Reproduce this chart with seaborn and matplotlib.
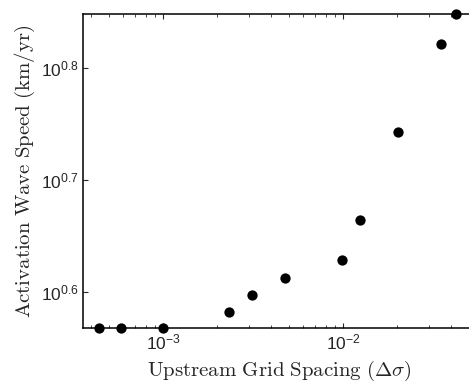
import numpy as np
import pandas as pd
import matplotlib
matplotlib.use("Agg")
import matplotlib.pyplot as plt
import matplotlib.ticker as mticker
import seaborn as sns

# Data (log-log)
grid_spacing = [4.41e-4, 5.82e-4, 1.0e-3, 2.33e-3, 3.12e-3, 4.76e-3,
                9.87e-3, 1.24e-2, 2.02e-2, 3.49e-2, 4.25e-2]
log_speed = [0.568, 0.568, 0.568, 0.582, 0.597, 0.613,
             0.629, 0.664, 0.743, 0.821, 0.848]
wave_speed = [10 ** v for v in log_speed]

y_tick_exps = [0.6, 0.7, 0.8]
x_tick_vals = [1e-3, 1e-2]
x_tick_labels = [r"$\mathregular{10^{-3}}$", r"$\mathregular{10^{-2}}$"]

df = pd.DataFrame({"spacing": grid_spacing, "speed": wave_speed})

sns.set_style("ticks")
plt.rcParams["font.family"] = ["Liberation Sans", "DejaVu Sans"]
plt.rcParams["xtick.direction"] = "in"
plt.rcParams["ytick.direction"] = "in"

RIGHT_PX = 475
fig = plt.figure(figsize=(4.69, 3.83), dpi=100)
ax = fig.add_axes([83 / 469, 1 - 328 / 383, (RIGHT_PX - 83) / 469, (328 - 14) / 383])

sns.scatterplot(data=df, x="spacing", y="speed", ax=ax, color="black",
                s=55, edgecolor="black", linewidth=0, clip_on=False, zorder=5)

ax.set_xscale("log")
ax.set_yscale("log")

# x limits: pixel mapping (decade = 180 px, 1e-3 at px 163)
x_left = 10 ** (-3 - 80 / 180)
x_right = 10 ** (-2 + (RIGHT_PX - 343) / 180)
ax.set_xlim(x_left, x_right)
ax.set_ylim(min(wave_speed), max(wave_speed))

ax.xaxis.set_major_locator(mticker.FixedLocator(x_tick_vals))
ax.xaxis.set_major_formatter(mticker.FixedFormatter(x_tick_labels))
ax.xaxis.set_minor_locator(mticker.LogLocator(base=10, subs=np.arange(2, 10)))
ax.xaxis.set_minor_formatter(mticker.NullFormatter())

ax.yaxis.set_major_locator(mticker.FixedLocator([10 ** e for e in y_tick_exps]))
ax.yaxis.set_major_formatter(mticker.FixedFormatter(
    [r"$\mathregular{10^{%.1f}}$" % e for e in y_tick_exps]))
ax.yaxis.set_minor_locator(mticker.NullLocator())

ax.tick_params(axis="both", which="major", direction="in", length=3.5,
               width=0.8, labelsize=12.5, top=True, right=False, pad=3)
ax.tick_params(axis="x", which="minor", direction="in", length=2,
               width=0.6, top=True)

for side in ["left", "bottom", "top"]:
    ax.spines[side].set_visible(True)
    ax.spines[side].set_linewidth(1.1)
    ax.spines[side].set_color("black")
ax.spines["right"].set_visible(False)

ax.set_xlabel(r"$\mathrm{Upstream\ Grid\ Spacing\ }(\Delta\sigma)$",
              fontsize=15, math_fontfamily="cm", labelpad=5)
ax.set_ylabel(r"$\mathrm{Activation\ Wave\ Speed\ (km/yr)}$",
              fontsize=15, math_fontfamily="cm", labelpad=3)

fig.savefig("out.png", dpi=100)
